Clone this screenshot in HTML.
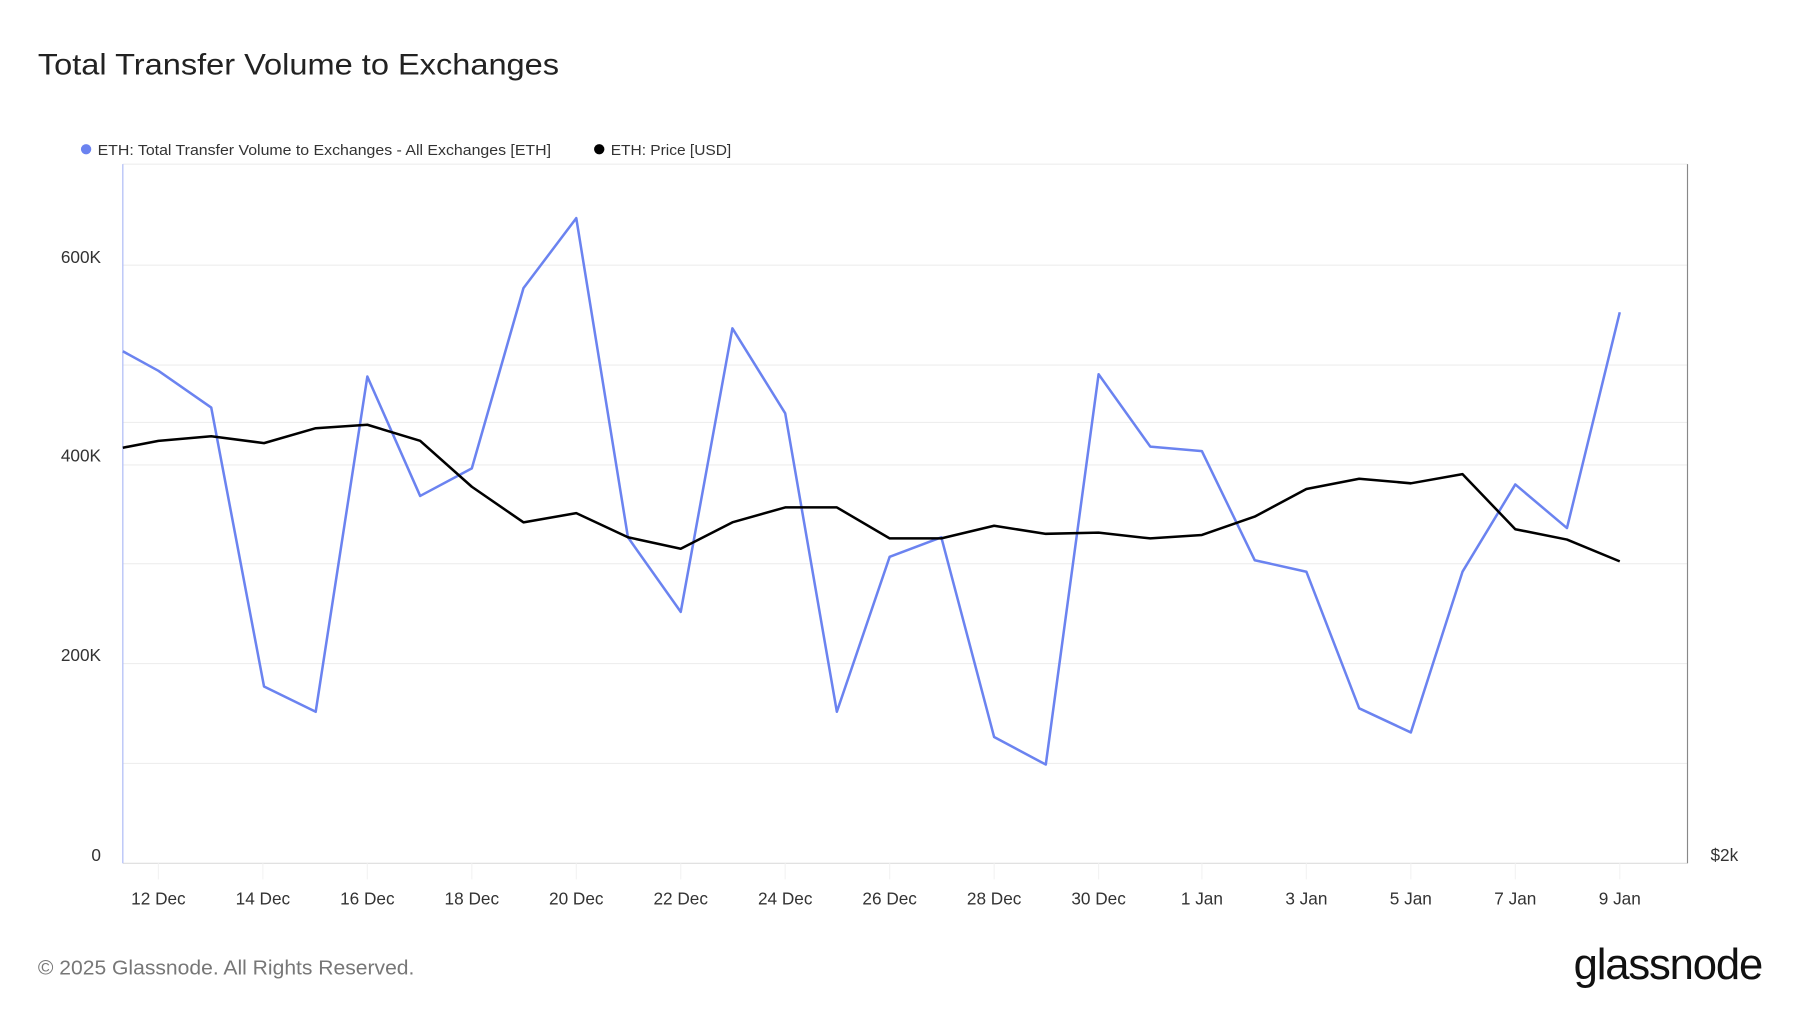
<!DOCTYPE html>
<html><head><meta charset="utf-8"><style>
html,body{margin:0;padding:0;background:#fff;}
svg{display:block;font-family:"Liberation Sans",sans-serif;}
</style></head><body>
<svg width="1800" height="1013" viewBox="0 0 1568 882.4" preserveAspectRatio="none">
<rect width="1568" height="882.4" fill="#fff"/>
<text x="33" y="65" font-size="26" fill="#222" textLength="454" lengthAdjust="spacingAndGlyphs">Total Transfer Volume to Exchanges</text>
<circle cx="75" cy="130" r="4.5" fill="#6b83f0"/>
<text x="85" y="135" font-size="13" fill="#333" textLength="395" lengthAdjust="spacingAndGlyphs">ETH: Total Transfer Volume to Exchanges - All Exchanges [ETH]</text>
<circle cx="522" cy="130" r="4.5" fill="#000"/>
<text x="532" y="135" font-size="13" fill="#333" textLength="105" lengthAdjust="spacingAndGlyphs">ETH: Price [USD]</text>
<g stroke="#eee" stroke-width="1">
<line x1="107" x2="1470" y1="231" y2="231"/><line x1="107" x2="1470" y1="318" y2="318"/>
<line x1="107" x2="1470" y1="368" y2="368"/><line x1="107" x2="1470" y1="405" y2="405"/>
<line x1="107" x2="1470" y1="491" y2="491"/><line x1="107" x2="1470" y1="578" y2="578"/>
<line x1="107" x2="1470" y1="665" y2="665"/><line x1="107" x2="1470" y1="143" y2="143"/>
</g>
<line x1="107" x2="1470" y1="752" y2="752" stroke="#ddd"/>
<line x1="107" x2="107" y1="143" y2="752" stroke="#aab8f5"/>
<line x1="1470" x2="1470" y1="143" y2="752" stroke="#888"/>
<g stroke="#f3f3f3">
<line x1="138" x2="138" y1="752" y2="766"/><line x1="229" x2="229" y1="752" y2="766"/><line x1="320" x2="320" y1="752" y2="766"/><line x1="411" x2="411" y1="752" y2="766"/><line x1="502" x2="502" y1="752" y2="766"/><line x1="593" x2="593" y1="752" y2="766"/><line x1="684" x2="684" y1="752" y2="766"/><line x1="775" x2="775" y1="752" y2="766"/><line x1="866" x2="866" y1="752" y2="766"/><line x1="957" x2="957" y1="752" y2="766"/><line x1="1047" x2="1047" y1="752" y2="766"/><line x1="1138" x2="1138" y1="752" y2="766"/><line x1="1229" x2="1229" y1="752" y2="766"/><line x1="1320" x2="1320" y1="752" y2="766"/><line x1="1411" x2="1411" y1="752" y2="766"/>
</g>
<g font-size="15" fill="#333" text-anchor="end">
<text x="88" y="229">600K</text><text x="88" y="402">400K</text><text x="88" y="576">200K</text><text x="88" y="750">0</text>
</g>
<text x="1490" y="750" font-size="15" fill="#333">$2k</text>
<g font-size="15" fill="#333" text-anchor="middle">
<text x="138" y="788">12 Dec</text><text x="229" y="788">14 Dec</text><text x="320" y="788">16 Dec</text><text x="411" y="788">18 Dec</text><text x="502" y="788">20 Dec</text><text x="593" y="788">22 Dec</text><text x="684" y="788">24 Dec</text><text x="775" y="788">26 Dec</text><text x="866" y="788">28 Dec</text><text x="957" y="788">30 Dec</text><text x="1047" y="788">1 Jan</text><text x="1138" y="788">3 Jan</text><text x="1229" y="788">5 Jan</text><text x="1320" y="788">7 Jan</text><text x="1411" y="788">9 Jan</text>
</g>
<polyline fill="none" stroke="#6b83f0" stroke-width="2.2" stroke-linejoin="round" points="107,306 138,323 184,355 230,598 275,620 320,328 366,432 411,408 456,251 502,190 547,468 593,533 638,286 684,360 729,620 775,485 820,468 866,642 911,666 957,326 1002,389 1047,393 1093,488 1138,498 1184,617 1229,638 1274,498 1320,422 1365,460 1411,272"/>
<polyline fill="none" stroke="#000" stroke-width="2.2" stroke-linejoin="round" points="107,390 138,384 184,380 230,386 275,373 320,370 366,384 411,424 456,455 502,447 547,468 593,478 638,455 684,442 729,442 775,469 820,469 866,458 911,465 957,464 1002,469 1047,466 1093,450 1138,426 1184,417 1229,421 1274,413 1320,461 1365,470 1411,489"/>
<text x="33" y="849" font-size="18" fill="#777" textLength="328" lengthAdjust="spacingAndGlyphs">© 2025 Glassnode. All Rights Reserved.</text>
<text x="1535" y="853" font-size="38" fill="#111" text-anchor="end" letter-spacing="-1">glassnode</text>
</svg>
</body></html>
